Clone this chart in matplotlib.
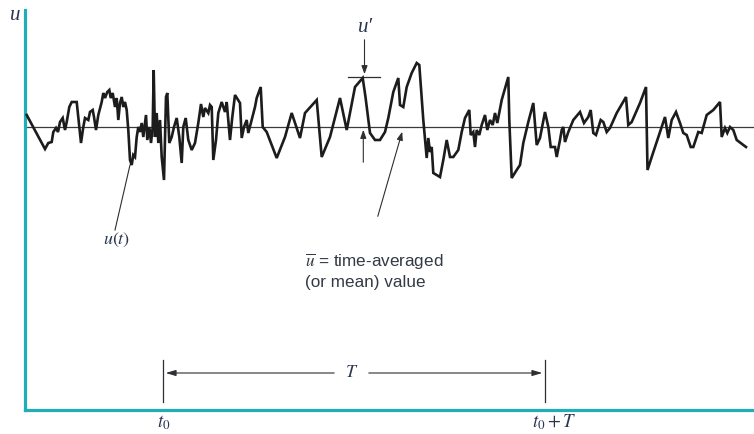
import matplotlib.pyplot as plt
import numpy as np

plt.rcParams['mathtext.fontset'] = 'stix'

# time samples of the fluctuating signal and its value about the mean (u - u_bar)
t = [26.7, 45, 48.3, 51.7, 53.3, 56, 58, 60, 62.7, 65, 66.7, 69.3, 71.7, 76.7, 78.3, 81,
     83.3, 85, 88.3, 90, 92.7, 94, 96, 98.3, 101.7, 103.3, 105, 107.3, 109.3, 110.7, 112.7,
     115, 116.7, 118.3, 120, 121.7, 123.3, 125, 126.7, 128.3, 130, 131.7, 133.3, 135, 136.7,
     138.3, 140, 141.7, 143.3, 146, 147.3, 149.3, 151, 152.7, 153.7, 155, 156.7, 158.3, 160,
     161.7, 164, 166, 167.3, 169.3, 171.7, 174, 176.7, 179.3, 181.7, 183.3, 185.7, 188.3,
     191.7, 195, 198.3, 201, 203.3, 205, 208.3, 210, 211.7, 213.3, 216, 218.3, 221.7, 225,
     226.7, 230, 232.3, 235, 240, 241.7, 244, 246.7, 248.3, 251.7, 255, 256.7, 260.7, 262.7,
     266.7, 276.7, 285, 291.7, 300, 305, 316.7, 321.7, 330, 340, 346.7, 355, 362.7, 365.5,
     370, 375, 380, 385, 388.3, 393.3, 398.3, 400, 403.3, 406.7, 411.7, 416.7, 419.3, 423.3,
     426.7, 428.3, 430, 431.7, 433.3, 436.7, 440, 443.3, 446.7, 450, 453.3, 458.3, 461.7,
     465, 469.3, 470.7, 473.3, 475, 476.7, 479.3, 481.7, 485, 487.3, 490, 492.7, 495, 497.3,
     501.7, 508.3, 509.3, 511.7, 516.7, 520, 523.3, 528.3, 533.3, 536.7, 540, 545, 548.3,
     550.7, 555, 556.7, 560, 561.7, 563.3, 565, 568.3, 573.3, 580, 584, 588.3, 590.7, 593.3,
     596, 600.7, 603.3, 606.7, 610, 616.7, 626, 628.3, 631.7, 640, 646, 646.7, 647.5, 651.7,
     660, 665, 668.3, 671.7, 676, 680, 683.3, 686.7, 690.7, 693.3, 698.3, 701.7, 706.7,
     713.3, 720, 721.7, 725, 727.3, 730, 733.3, 735, 736.7, 746]
u = [12, -22, -16, -15, -5, -1, -5, 5, 9, -3, 5, 20, 25, 25, 10, -16, 0, 9, 7, 15, 17, 10,
     -3, 12, 25, 34, 29, 35, 37, 29, 34, 20, 29, 7, 24, 30, 20, 25, 17, -3, -33, -38, -28,
     -30, -10, 0, -5, 4, -10, 12, -13, 0, -16, 0, 57, -10, 14, -16, 7, -30, -53, 30, 34,
     -16, -10, 0, 9, -10, -36, 0, 9, -13, -23, -16, 4, 23, 10, 19, 14, 22, 20, -33, -13,
     14, 25, 15, 25, -13, 10, 32, 24, -11, 0, 7, -6, 7, 20, 29, 40, 0, -5, -31, -10, 14,
     -11, 14, 27, -30, -10, 29, -3, 40, 49, 30, -6, -13, -13, -5, 9, 35, 49, 22, 20, 40,
     54, 64, 62, 7, -31, -11, -25, -20, -46, -48, -50, -33, -13, -30, -30, -23, -5, 9, 17,
     -8, -5, -20, -3, -8, 2, 12, -3, 7, 2, 14, 4, 27, 50, 7, -51, -43, -38, -16, 5, 24,
     -18, -11, 15, 0, -20, -20, -30, -13, -3, 0, -15, -5, 7, 15, 4, 10, 17, -6, -8, 7, 5,
     -5, -1, 14, 30, 2, 5, 24, 40, 0, -43, -30, -5, 10, -11, 7, 15, 4, -6, -8, -20, -20,
     -5, -6, 12, 17, 25, -10, -1, -6, 0, -3, -8, -13, -20]

mean_u = 0.0
t_start, t_end = 163, 545
u_peak = max(u[:130])

ink = '#2e2e33'
teal = '#1fadb8'
label_col = '#2a3550'
serif_it = dict(family=['Liberation Serif', 'DejaVu Serif'], style='italic', color=label_col)
sans = ['Liberation Sans Narrow', 'Liberation Sans', 'DejaVu Sans']

fig = plt.figure(figsize=(7.54, 4.34), dpi=100)
ax = fig.add_axes([0, 0, 1, 1])
ax.set_xlim(0, 754)
ax.set_ylim(-307, 127)

# axes drawn as teal spines at t = 25 and u = -283
for side in ('top', 'right'):
    ax.spines[side].set_visible(False)
ax.spines['left'].set_position(('data', 25))
ax.spines['bottom'].set_position(('data', -283))
ax.spines['left'].set_bounds(-283, 117)
ax.spines['bottom'].set_bounds(25, 754)
for side in ('left', 'bottom'):
    ax.spines[side].set_color(teal)
    ax.spines[side].set_linewidth(2.3)
ax.set_xticks([])
ax.set_yticks([])

# mean line and signal
ax.plot([27, 754], [mean_u, mean_u], color='#3a3a3a', lw=0.9, zorder=2)
ax.plot(t, u, color='#1c1c1c', lw=1.9, solid_joinstyle='miter', zorder=3)

ax.text(15, 112, 'u', fontsize=15, ha='center', va='center', **serif_it)

# u' markers
ax.plot([348, 380], [u_peak - 14, u_peak - 14], color=ink, lw=0.9)
ax.annotate('', xy=(364.5, u_peak - 14), xytext=(364.5, 90),
            arrowprops=dict(arrowstyle='-|>,head_length=0.5,head_width=0.18', color=ink, lw=0.8))
ax.annotate('', xy=(363.3, mean_u), xytext=(363.3, -38),
            arrowprops=dict(arrowstyle='-|>,head_length=0.5,head_width=0.18', color=ink, lw=0.8))
ax.text(366, 100, 'u\u2032', fontsize=15, ha='center', va='center', **serif_it)

# u(t) leader
ax.plot([130, 115], [-38, -103], color=ink, lw=0.8)
ax.text(117, -113, r'$u(t)$', fontsize=13, color=label_col, ha='center', va='center')

# mean value leader
ax.annotate('', xy=(403, -2), xytext=(377, -92),
            arrowprops=dict(arrowstyle='-|>,head_length=0.5,head_width=0.18', color=ink, lw=0.8))
ax.text(305, -135, r'$\overline{u}$ = time-averaged', fontsize=12.3, color='#333a45',
        family=sans, ha='left', va='center')
ax.text(305, -156, '(or mean) value', fontsize=12.3, color='#333a45',
        family=sans, ha='left', va='center')

# averaging interval T
for x in (t_start, t_end):
    ax.plot([x, x], [-233, -275], color=ink, lw=0.9)
ax.annotate('', xy=(t_start, -246), xytext=(337, -246),
            arrowprops=dict(arrowstyle='-|>,head_length=0.6,head_width=0.18', color=ink, lw=0.8))
ax.annotate('', xy=(t_end, -246), xytext=(366, -246),
            arrowprops=dict(arrowstyle='-|>,head_length=0.6,head_width=0.18', color=ink, lw=0.8))
ax.text(352, -245, r'$T$', fontsize=13, color=label_col, ha='center', va='center')

ax.text(t_start + 1, -296, r'$t_0$', fontsize=13.5, color=label_col, ha='center', va='center')
ax.text(t_end + 9, -295, r'$t_0 + T$', fontsize=13.5, color=label_col, ha='center', va='center')

fig.savefig('out.png', dpi=100)
